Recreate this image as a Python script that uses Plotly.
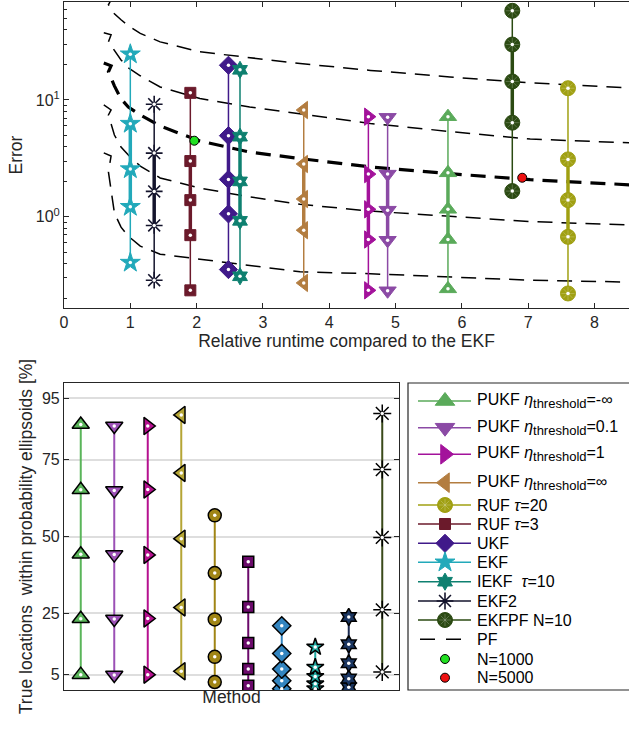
import plotly.graph_objects as go

W, H = 629, 732
FONT = "Liberation Sans, Arial, sans-serif"
AX = "#262626"

# ---------------- Top panel data: error percentiles vs relative runtime ----------------
top_methods = ["EKF", "EKF2", "RUF τ=3", "UKF", "IEKF τ=10", "PUKF η=∞", "PUKF η=1",
               "PUKF η=0.1", "PUKF η=-∞", "EKFPF N=10", "RUF τ=20"]
top_runtime = [1.00, 1.36, 1.905, 2.48, 2.654, 3.615, 4.59, 4.88, 5.79, 6.76, 7.60]
top_err_p95 = [24.6, 9.19, 11.5, 19.8, 18.1, 8.2, 7.19, 7.10, 7.19, 57.9, 12.6]
top_err_p75 = [6.27, 3.51, 3.00, 4.95, 4.85, 2.83, 2.32, 2.32, 2.38, 29.8, 3.10]
top_err_p50 = [2.56, 1.65, 1.39, 2.09, 2.01, 1.42, 1.16, 1.14, 1.16, 14.4, 1.39]
top_err_p25 = [1.22, 0.844, 0.697, 1.06, 0.924, 0.769, 0.640, 0.630, 0.640, 6.39, 0.674]
top_err_p5 = [0.406, 0.287, 0.235, 0.354, 0.310, 0.272, 0.235, 0.233, 0.242, 1.66, 0.221]

# particle filter percentile curves
pf_runtime = [0.60, 0.71, 0.67, 0.76, 0.86, 0.97, 1.15, 1.45, 2.05, 2.80, 3.56, 4.62, 5.82, 7.03, 8.60]
pf_err_p95 = [77.8, 71.9, 65.2, 54.6, 48.5, 43.1, 37.1, 31.4, 25.8, 23.1, 20.5, 17.9, 15.7, 14.0, 12.6]
pf_err_p75 = [37.5, 36.1, 31.4, 26.8, 22.0, 18.8, 16.1, 12.9, 10.3, 8.71, 7.59, 6.29, 5.37, 4.63, 4.28]
pf_err_p50 = [20.7, 19.6, 17.4, 13.2, 10.2, 8.71, 7.44, 5.98, 4.45, 3.58, 3.15, 2.67, 2.34, 2.08, 1.87]
pf_err_p25 = [9.06, 8.21, 7.44, 5.01, 3.96, 3.38, 2.72, 2.15, 1.76, 1.48, 1.28, 1.12, 1.01, 0.91, 0.849]
pf_err_p5 = [3.53, 3.31, 2.42, 1.08, 0.816, 0.684, 0.561, 0.479, 0.434, 0.386, 0.339, 0.326, 0.304, 0.287, 0.276]

pf_n1000_runtime, pf_n1000_err = [1.965], [4.48]
pf_n5000_runtime, pf_n5000_err = [6.91], [2.16]

# ---------------- Bottom panel data: % true locations within ellipsoids ----------------
bottom_methods = ["PUKF η=-∞", "PUKF η=0.1", "PUKF η=1", "PUKF η=∞", "RUF τ=20",
                  "RUF τ=3", "UKF", "EKF", "IEKF τ=10", "EKF2"]
bottom_pos = [1, 2, 3, 4, 5, 6, 7, 8, 9, 10]
bottom_p95 = [86.5, 86.0, 86.0, 89.6, 56.9, 41.8, 20.9, 14.0, 23.8, 90.1]
bottom_p75 = [65.2, 65.0, 65.3, 70.7, 38.1, 27.0, 11.9, 7.4, 14.9, 71.8]
bottom_p50 = [44.2, 44.1, 44.0, 49.3, 23.0, 15.3, 6.8, 4.4, 8.7, 49.7]
bottom_p25 = [23.2, 23.1, 23.3, 26.9, 10.8, 6.8, 3.0, 2.0, 3.7, 26.1]
bottom_p5 = [5.0, 4.9, 5.0, 6.1, 2.6, 1.4, 0.4, 0.4, 0.9, 5.9]

# ---------------- styles ----------------
top_style = {
    "EKF": ("#22a9ba", "star", 15),
    "EKF2": ("#14142c", "asterisk-open", 14),
    "RUF τ=3": ("#6b1a2b", "square", 11),
    "UKF": ("#401a8a", "diamond", 14),
    "IEKF τ=10": ("#0e8070", "hexagram", 13),
    "PUKF η=∞": ("#b37d40", "triangle-left", 15),
    "PUKF η=1": ("#a3129b", "triangle-right", 15),
    "PUKF η=0.1": ("#8b4aa5", "triangle-down", 15),
    "PUKF η=-∞": ("#5aaa5a", "triangle-up", 15),
    "EKFPF N=10": ("#2b4a12", "circle", 15),
    "RUF τ=20": ("#a0a012", "circle", 15),
}
bottom_style = {
    "PUKF η=-∞": ("#5ab55a", "#5ab55a", "triangle-up", 15),
    "PUKF η=0.1": ("#9b50b5", "#9b50b5", "triangle-down", 15),
    "PUKF η=1": ("#b5108f", "#b5108f", "triangle-right", 15),
    "PUKF η=∞": ("#b5a535", "#b5a535", "triangle-left", 15),
    "RUF τ=20": ("#a08515", "#a08515", "circle", 13),
    "RUF τ=3": ("#6b0a6b", "#6b0a6b", "square", 11),
    "UKF": ("#3385c0", "#3385c0", "diamond", 14),
    "EKF": ("#20a8a0", "#20a8a0", "star", 13),
    "IEKF τ=10": ("#1a3560", "#1a2a50", "hexagram", 13),
    "EKF2": ("#000000", "#3a4a1a", "asterisk-open", 15),
}
GLINT = "rgba(255,255,255,0.22)"

fig = go.Figure()

# PF curves
for arr, w in [(pf_err_p95, 1.5), (pf_err_p75, 1.5), (pf_err_p50, 3.2), (pf_err_p25, 1.5), (pf_err_p5, 1.5)]:
    fig.add_trace(go.Scatter(x=pf_runtime, y=arr, mode="lines", xaxis="x", yaxis="y",
                             line=dict(color="black", width=w, dash="15px,9px"),
                             showlegend=False, hoverinfo="skip"))

# top methods
for i, name in enumerate(top_methods):
    col, sym, size = top_style[name]
    rt = top_runtime[i]
    vals = [top_err_p5[i], top_err_p25[i], top_err_p50[i], top_err_p75[i], top_err_p95[i]]
    fig.add_trace(go.Scatter(x=[rt, rt], y=[vals[0], vals[4]], mode="lines", xaxis="x", yaxis="y",
                             line=dict(color=col, width=1.5), showlegend=False, hoverinfo="skip"))
    fig.add_trace(go.Scatter(x=[rt, rt], y=[vals[1], vals[3]], mode="lines", xaxis="x", yaxis="y",
                             line=dict(color=col, width=3.5), showlegend=False, hoverinfo="skip"))
    if sym == "asterisk-open":
        mk = dict(symbol=sym, size=size, color=col, line=dict(color=col, width=1.6))
    else:
        mk = dict(symbol=sym, size=size, color=col, line=dict(color=col, width=1))
    fig.add_trace(go.Scatter(x=[rt] * 5, y=vals, mode="markers", xaxis="x", yaxis="y",
                             marker=mk, showlegend=False, hoverinfo="skip", cliponaxis=False))
    if sym == "circle":
        fig.add_trace(go.Scatter(x=[rt] * 5, y=vals, mode="markers", xaxis="x", yaxis="y",
                                 marker=dict(symbol="asterisk-open", size=11, color=GLINT,
                                             line=dict(color=GLINT, width=1)),
                                 showlegend=False, hoverinfo="skip", cliponaxis=False))
    fig.add_trace(go.Scatter(x=[rt] * 5, y=vals, mode="markers", xaxis="x", yaxis="y",
                             marker=dict(symbol="circle", size=3.5, color="white"),
                             showlegend=False, hoverinfo="skip", cliponaxis=False))

# PF N markers
fig.add_trace(go.Scatter(x=pf_n1000_runtime, y=pf_n1000_err, mode="markers", xaxis="x", yaxis="y",
                         marker=dict(size=9, color="#22e022", line=dict(color="black", width=1)),
                         showlegend=False, hoverinfo="skip"))
fig.add_trace(go.Scatter(x=pf_n5000_runtime, y=pf_n5000_err, mode="markers", xaxis="x", yaxis="y",
                         marker=dict(size=9, color="#ee1111", line=dict(color="black", width=1)),
                         showlegend=False, hoverinfo="skip"))

# bottom methods
for i, name in enumerate(bottom_methods):
    fill, lcol, sym, size = bottom_style[name]
    xp = bottom_pos[i]
    vals = [bottom_p5[i], bottom_p25[i], bottom_p50[i], bottom_p75[i], bottom_p95[i]]
    fig.add_trace(go.Scatter(x=[xp, xp], y=[vals[0], vals[4]], mode="lines", xaxis="x2", yaxis="y2",
                             line=dict(color=lcol, width=2), showlegend=False, hoverinfo="skip"))
    if sym == "asterisk-open":
        mk = dict(symbol=sym, size=size, color="black", line=dict(color="black", width=1.5))
    else:
        mk = dict(symbol=sym, size=size, color=fill, line=dict(color="black", width=1.5))
    fig.add_trace(go.Scatter(x=[xp] * 5, y=vals, mode="markers", xaxis="x2", yaxis="y2",
                             marker=mk, showlegend=False, hoverinfo="skip"))
    fig.add_trace(go.Scatter(x=[xp] * 5, y=vals, mode="markers", xaxis="x2", yaxis="y2",
                             marker=dict(symbol="circle", size=3.5, color="white"),
                             showlegend=False, hoverinfo="skip"))

# ---------------- custom legend (overlay axis in pixel units) ----------------
SUB = "<sub><span style='font-size:13px'>threshold</span></sub>"
legend_rows = [
    ("PUKF <i>η</i>" + SUB + "=-∞", "PUKF η=-∞"),
    ("PUKF <i>η</i>" + SUB + "=0.1", "PUKF η=0.1"),
    ("PUKF <i>η</i>" + SUB + "=1", "PUKF η=1"),
    ("PUKF <i>η</i>" + SUB + "=∞", "PUKF η=∞"),
    ("RUF <i>τ</i>=20", "RUF τ=20"),
    ("RUF <i>τ</i>=3", "RUF τ=3"),
    ("UKF", "UKF"),
    ("EKF", "EKF"),
    ("IEKF  <i>τ</i>=10", "IEKF τ=10"),
    ("EKF2", "EKF2"),
    ("EKFPF N=10", "EKFPF N=10"),
    ("PF", "PF"),
    ("N=1000", "N1000"),
    ("N=5000", "N5000"),
]
legend_row_y = [18, 44.7, 71.3, 99.7, 122, 141, 160.3, 179.3, 198.7, 218, 237, 256.3, 276, 294.7]
LX0, LX1, LMK, LTX = 10, 63, 37, 67

annotations = []
for (label, key), yy in zip(legend_rows, legend_row_y):
    if key in top_style:
        col, sym, size = top_style[key]
        fig.add_trace(go.Scatter(x=[LX0, LX1], y=[yy, yy], mode="lines", xaxis="x3", yaxis="y3",
                                 line=dict(color=col, width=1.5), showlegend=False, hoverinfo="skip"))
        lsize = size + 2 if sym.startswith("triangle") else size
        if sym == "asterisk-open":
            mk = dict(symbol=sym, size=lsize, color=col, line=dict(color=col, width=1.6))
        else:
            mk = dict(symbol=sym, size=lsize, color=col, line=dict(color=col, width=1))
        fig.add_trace(go.Scatter(x=[LMK], y=[yy], mode="markers", xaxis="x3", yaxis="y3",
                                 marker=mk, showlegend=False, hoverinfo="skip", cliponaxis=False))
        if sym == "circle":
            fig.add_trace(go.Scatter(x=[LMK], y=[yy], mode="markers", xaxis="x3", yaxis="y3",
                                     marker=dict(symbol="asterisk-open", size=10, color=GLINT,
                                                 line=dict(color=GLINT, width=1)),
                                     showlegend=False, hoverinfo="skip", cliponaxis=False))
    elif key == "PF":
        fig.add_trace(go.Scatter(x=[LX0 + 2, LX1 - 8], y=[yy, yy], mode="lines", xaxis="x3", yaxis="y3",
                                 line=dict(color="black", width=1.5, dash="15px,11px"),
                                 showlegend=False, hoverinfo="skip"))
    else:
        c = "#22e022" if key == "N1000" else "#ee1111"
        fig.add_trace(go.Scatter(x=[LMK], y=[yy], mode="markers", xaxis="x3", yaxis="y3",
                                 marker=dict(size=9, color=c, line=dict(color="black", width=1)),
                                 showlegend=False, hoverinfo="skip", cliponaxis=False))
    annotations.append(dict(x=LTX, y=yy, xref="x3", yref="y3", text=label, showarrow=False,
                            xanchor="left", yanchor="middle",
                            font=dict(family=FONT, size=16, color="black")))

# ---------------- layout ----------------
def px_x(p):
    return p / W

def px_y(p):
    return 1 - p / H

minor_vals = [0.2, 0.3, 0.4, 0.5, 0.6, 0.7, 0.8, 0.9, 2, 3, 4, 5, 6, 7, 8, 9, 20, 30, 40, 50, 60]
TF = 16
TT = 17.5

fig.update_layout(
    width=W, height=H, margin=dict(l=0, r=0, t=0, b=0, autoexpand=False),
    paper_bgcolor="white", plot_bgcolor="white",
    font=dict(family=FONT, size=14, color=AX),
    xaxis=dict(domain=[px_x(64), 1.0], range=[0, 8.52], tickvals=list(range(0, 9)),
               ticks="inside", ticklen=5, tickcolor=AX, showline=True, linecolor=AX, linewidth=1,
               mirror="ticks", showgrid=False, zeroline=False, automargin=False,
               tickfont=dict(size=TF, color=AX),
               title=dict(text="Relative runtime compared to the EKF", font=dict(size=TT, color=AX), standoff=0),
               anchor="y"),
    yaxis=dict(domain=[px_y(308), px_y(2)], type="log", range=[-0.78, 1.838],
               tickvals=[1, 10], ticktext=["10<sup>0</sup>", "10<sup>1</sup>"],
               ticks="inside", ticklen=5, tickcolor=AX, showline=True, linecolor=AX, linewidth=1,
               mirror=False, showgrid=False, zeroline=False, automargin=False,
               minor=dict(tickvals=minor_vals, ticks="inside", ticklen=3, tickcolor=AX),
               tickfont=dict(size=TF, color=AX),
               title=dict(text="Error", font=dict(size=TT, color=AX), standoff=8),
               anchor="x"),
    xaxis2=dict(domain=[px_x(64), px_x(399)], range=[0.5, 10.5], showticklabels=False, ticks="",
                showline=True, linecolor=AX, linewidth=1.2, mirror=True, showgrid=False, zeroline=False,
                automargin=False,
                title=dict(text="Method", font=dict(size=TT, color=AX), standoff=0),
                anchor="y2"),
    yaxis2=dict(domain=[px_y(690), px_y(383)], range=[0, 100], tickvals=[5, 25, 50, 75, 95],
                ticks="inside", ticklen=5, tickcolor=AX, showline=True, linecolor=AX, linewidth=1.2,
                mirror="ticks", showgrid=True, gridcolor="#dedede", gridwidth=1.5, zeroline=False,
                automargin=False,
                tickfont=dict(size=TF, color=AX),
                title=dict(text="True locations  within probability ellipsoids [%]",
                           font=dict(size=TT, color=AX), standoff=4),
                anchor="x2"),
    xaxis3=dict(domain=[px_x(408), 1.0], range=[0, W - 408], visible=False, anchor="y3"),
    yaxis3=dict(domain=[px_y(690), px_y(383)], range=[307, 0], visible=False, anchor="x3"),
    annotations=annotations,
    shapes=[dict(type="rect", xref="paper", yref="paper", x0=px_x(408), x1=1.1,
                 y0=px_y(690), y1=px_y(383), line=dict(color=AX, width=1.2), layer="below")],
)

fig.write_html("out.html", config={"displayModeBar": False},
               post_script="document.body.style.margin='0px';")
